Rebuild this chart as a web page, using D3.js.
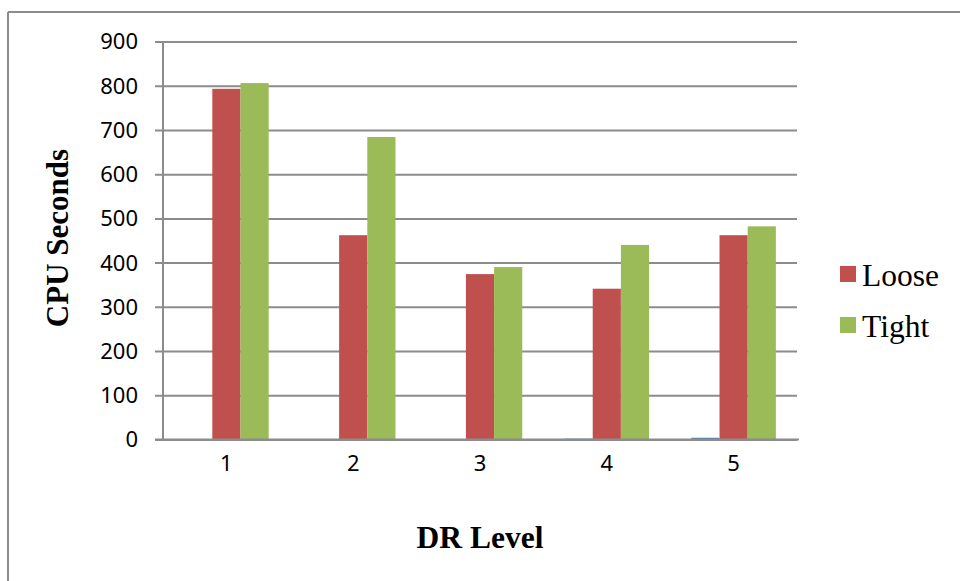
<!DOCTYPE html>
<html>
<head>
<meta charset="utf-8">
<script src="https://cdn.jsdelivr.net/npm/d3@7/dist/d3.min.js"></script>
<style>
  html, body { margin: 0; padding: 0; background: #fff; }
  svg { display: block; }
</style>
</head>
<body>
<svg id="chart" width="960" height="581"></svg>
<script>
// CPU time per DR level, three series (the first one is not listed in the legend)
const categories = ["1", "2", "3", "4", "5"];
const seriesNames = ["Base", "Loose", "Tight"];
const baseValues = [0, 0, 1, 2, 4];
const looseValues = [793, 462, 374, 341, 462];
const tightValues = [806, 684, 390, 440, 482];
const yTicks = [0, 100, 200, 300, 400, 500, 600, 700, 800, 900];
const legendNames = ["Loose", "Tight"];

const colors = { Base: "#4F81BD", Loose: "#C0504D", Tight: "#9BBB59" };
const valuesBySeries = { Base: baseValues, Loose: looseValues, Tight: tightValues };

const svg = d3.select("#chart");
const plot = { left: 163, right: 797, top: 41.5, bottom: 439.5 };
const gridColor = "#8c8c8c";
const tickFont = "'Noto Sans', 'Open Sans', sans-serif";
const titleFont = "'Liberation Serif', 'Times New Roman', serif";

// Outer frame (top and left edges show in the window)
svg.append("line").attr("x1", 8).attr("x2", 960).attr("y1", 12).attr("y2", 12)
  .attr("stroke", gridColor).attr("stroke-width", 2);
svg.append("line").attr("x1", 8).attr("x2", 8).attr("y1", 12).attr("y2", 581)
  .attr("stroke", gridColor).attr("stroke-width", 2);

const x = d3.scaleBand().domain(categories).range([plot.left, plot.right]).paddingInner(0).paddingOuter(0);
const xs = d3.scaleBand().domain(seriesNames).range([0, x.bandwidth()]).paddingInner(0).paddingOuter(0.75);
const y = d3.scaleLinear().domain([0, 900]).range([plot.bottom, plot.top]);

// Horizontal gridlines with y ticks extending to the left
const yAxis = d3.axisLeft(y).tickValues(yTicks).tickSize(-(plot.right - plot.left + 8)).tickPadding(18)
  .tickFormat(d3.format("d"));
const gy = svg.append("g").attr("transform", `translate(${plot.left - 8},0)`).call(yAxis);
gy.select(".domain").remove();
gy.selectAll(".tick line").attr("stroke", gridColor).attr("stroke-width", 2);
gy.selectAll(".tick text").attr("font-family", tickFont).attr("font-size", 22).attr("fill", "#000")
  .attr("x", -17).attr("dy", "0.34em");

// Bars
const rows = categories.map((c, i) => ({ cat: c, items: seriesNames.map(s => ({ s, v: valuesBySeries[s][i] })) }));
const groups = svg.append("g").selectAll("g").data(rows).join("g")
  .attr("transform", d => `translate(${x(d.cat)},0)`);
groups.selectAll("rect").data(d => d.items).join("rect")
  .attr("x", d => xs(d.s))
  .attr("width", xs.bandwidth())
  .attr("y", d => y(d.v))
  .attr("height", d => y(0) - y(d.v))
  .attr("fill", d => colors[d.s]);

// Y axis line
svg.append("line").attr("x1", plot.left).attr("x2", plot.left).attr("y1", plot.top).attr("y2", plot.bottom)
  .attr("stroke", gridColor).attr("stroke-width", 2);
// X axis baseline
svg.append("line").attr("x1", plot.left - 8).attr("x2", plot.right + 2).attr("y1", plot.bottom).attr("y2", plot.bottom)
  .attr("stroke", gridColor).attr("stroke-width", 2);

// Category labels
const xAxis = d3.axisBottom(x).tickSize(0).tickPadding(0);
const gx = svg.append("g").attr("transform", `translate(0,${plot.bottom})`).call(xAxis);
gx.select(".domain").remove();
gx.selectAll(".tick text").attr("font-family", tickFont).attr("font-size", 22).attr("fill", "#000")
  .attr("y", 31).attr("dy", 0);

// Axis titles
svg.append("text").attr("x", 480).attr("y", 548).attr("text-anchor", "middle")
  .attr("font-family", titleFont).attr("font-weight", "bold").attr("font-size", 31.5)
  .text("DR Level");
svg.append("text").attr("transform", "translate(68,238) rotate(-90)").attr("text-anchor", "middle")
  .attr("font-family", titleFont).attr("font-weight", "bold").attr("font-size", 31)
  .text("CPU Seconds");

// Legend
const legend = svg.append("g").selectAll("g").data(legendNames).join("g")
  .attr("transform", (d, i) => `translate(840,${266 + i * 51})`);
legend.append("rect").attr("width", 16).attr("height", 16).attr("fill", d => colors[d]);
legend.append("text").attr("x", 22).attr("y", 19.5)
  .attr("font-family", titleFont).attr("font-size", 31.5).attr("fill", "#000")
  .text(d => d);
</script>
</body>
</html>
